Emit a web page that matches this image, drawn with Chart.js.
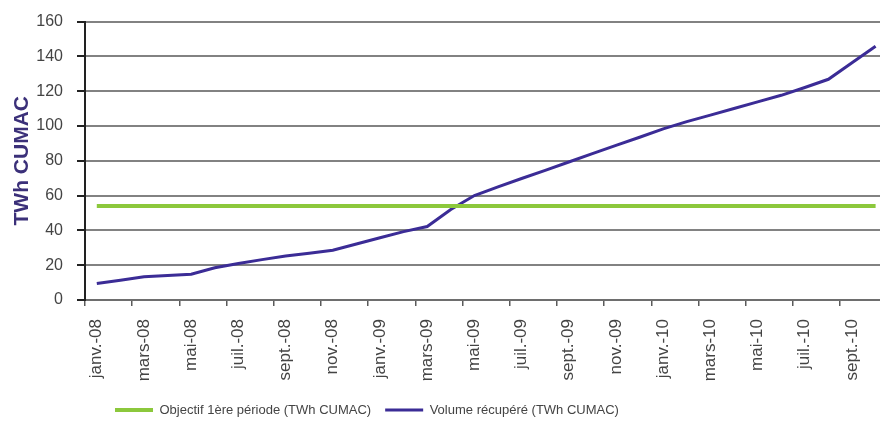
<!DOCTYPE html>
<html>
<head>
<meta charset="utf-8">
<script src="https://cdn.jsdelivr.net/npm/chart.js@4/dist/chart.umd.min.js"></script>
<style>
  html, body { margin: 0; padding: 0; background: #fff; overflow: hidden; width: 880px; height: 424px; }
  #wrap { position: relative; width: 909px; height: 424px; }
</style>
</head>
<body>
<div id="wrap"><canvas id="chart"></canvas></div>
<script>
// Monthly categories, janv. 2008 to oct. 2010
const categories = [
  'janv.-08', 'févr.-08', 'mars-08', 'avr.-08', 'mai-08', 'juin-08',
  'juil.-08', 'août-08', 'sept.-08', 'oct.-08', 'nov.-08', 'déc.-08',
  'janv.-09', 'févr.-09', 'mars-09', 'avr.-09', 'mai-09', 'juin-09',
  'juil.-09', 'août-09', 'sept.-09', 'oct.-09', 'nov.-09', 'déc.-09',
  'janv.-10', 'févr.-10', 'mars-10', 'avr.-10', 'mai-10', 'juin-10',
  'juil.-10', 'août-10', 'sept.-10', 'oct.-10'
];

// Target for the first period (TWh CUMAC)
const objectif = [
  54, 54, 54, 54, 54, 54, 54, 54, 54, 54, 54, 54,
  54, 54, 54, 54, 54, 54, 54, 54, 54, 54, 54, 54,
  54, 54, 54, 54, 54, 54, 54, 54, 54, 54
];

// Cumulative volume collected (TWh CUMAC)
const volume = [
  9.5, 11.3, 13.3, 14.1, 14.8, 18.5, 21, 23.2, 25.3, 26.8, 28.6, 32.2,
  35.8, 39.3, 42.2, 52, 60, 65, 69.8, 74.5, 79.3, 84.1, 88.8, 93.5,
  98.3, 102.5, 106.2, 110, 113.8, 117.6, 122.1, 126.8, 136.3, 145.8
];

const yTicks = { min: 0, max: 160, step: 20 };

const seriesNames = ['Objectif 1ère période (TWh CUMAC)', 'Volume récupéré (TWh CUMAC)'];

Chart.defaults.font.family = "'Liberation Sans', Arial, sans-serif";

// Places the legend row at a fixed position below the axis labels
const legendShift = {
  id: 'legendShift',
  afterLayout(chart, args, opts) {
    const lg = chart.legend;
    if (!lg) return;
    const pad = lg.options.labels.padding;
    const fs = lg.options.labels.font.size;
    const w = lg.right - lg.left, h = lg.bottom - lg.top;
    lg.left = opts.x - pad;
    lg.right = lg.left + w;
    lg.top = opts.y - pad - fs / 2;
    lg.bottom = lg.top + h;
  }
};

const textColor = '#444444';

new Chart(document.getElementById('chart'), {
  type: 'line',
  data: {
    labels: categories,
    datasets: [
      {
        label: seriesNames[0],
        data: objectif,
        borderColor: '#8cc83c',
        backgroundColor: '#8cc83c',
        borderWidth: 4,
        pointRadius: 0,
        tension: 0
      },
      {
        label: seriesNames[1],
        data: volume,
        borderColor: '#3b2c96',
        backgroundColor: '#3b2c96',
        borderWidth: 3,
        pointRadius: 0,
        tension: 0
      }
    ]
  },
  options: {
    responsive: true,
    maintainAspectRatio: false,
    animation: false,
    layout: { padding: { top: 21.5, right: 0, bottom: 0, left: 0 } },
    plugins: {
      tooltip: { enabled: false },
      legend: {
        position: 'bottom',
        align: 'start',
        labels: {
          usePointStyle: true,
          pointStyle: 'line',
          pointStyleWidth: 38,
          padding: 14,
          color: textColor,
          font: { size: 13 }
        }
      },
      legendShift: { x: 115, y: 410 }
    },
    scales: {
      x: {
        offset: true,
        grid: {
          offset: true,
          drawOnChartArea: false,
          tickLength: 6,
          lineWidth: 1.5,
          color: 'transparent',
          tickColor: (c) => (c.index % 2 === 0 ? '#5a5a5a' : 'transparent')
        },
        border: { color: '#6e6e6e', width: 2 },
        ticks: {
          autoSkip: false,
          minRotation: 90,
          maxRotation: 90,
          padding: 13,
          color: textColor,
          font: { size: 17 },
          callback(value, index) {
            return index % 2 === 0 ? this.getLabelForValue(value) : '';
          }
        },
        afterFit(scale) { scale.height = 87; }
      },
      y: {
        min: yTicks.min,
        max: yTicks.max,
        ticks: { stepSize: yTicks.step, padding: 14, color: textColor, font: { size: 16 } },
        grid: { color: '#828282', lineWidth: 2, tickLength: 8, tickColor: '#222' },
        border: { color: '#222', width: 2 },
        title: {
          display: true,
          text: 'TWh CUMAC',
          color: '#3b3079',
          font: { size: 21, weight: 'bold' },
          padding: { top: 10, bottom: 2 }
        },
        afterFit(scale) {
          scale.width = 85;
          scale.paddingTop = 0;
          scale.paddingBottom = 0;
        }
      }
    }
  },
  plugins: [legendShift]
});
</script>
</body>
</html>
